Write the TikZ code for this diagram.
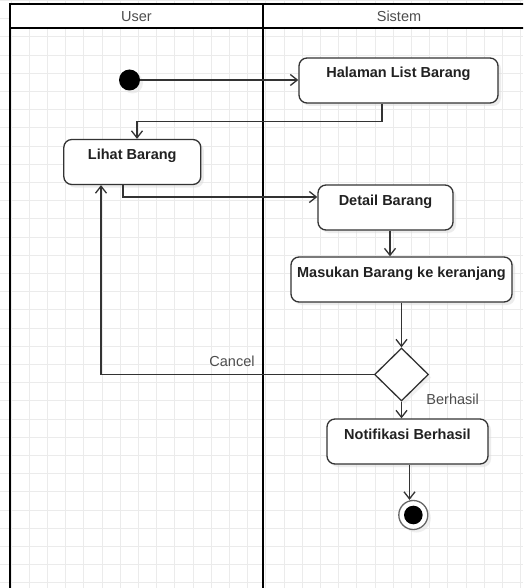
\documentclass[tikz,border=0pt]{standalone}
\usepackage{fontspec}
\setmainfont{Liberation Sans}
\usetikzlibrary{shapes.geometric,arrows.meta,shadows}

\definecolor{lineclr}{HTML}{333333}
\definecolor{gridclr}{HTML}{EBEBEB}
\definecolor{labelclr}{HTML}{4D4D4D}

\begin{document}
\begin{tikzpicture}[x=1pt,y=-1pt,
    action/.style={draw=lineclr, line width=1.3pt, rounded corners=8pt, fill=white,
      minimum height=45pt, inner ysep=2pt, text height=18pt, text depth=23pt,
      font=\fontsize{14.5}{17}\selectfont\bfseries, text=black!87,
      drop shadow={shadow xshift=3pt, shadow yshift=-3pt, fill=black!14}},
    choicebox/.style={diamond, draw=lineclr, line width=1.3pt, fill=white, inner sep=0pt,
      minimum width=54pt, minimum height=53pt,
      drop shadow={shadow xshift=3pt, shadow yshift=-3pt, fill=black!10}},
    startdot/.style={circle, fill=black, minimum size=21pt, inner sep=0pt,
      drop shadow={shadow xshift=3pt, shadow yshift=-3pt, fill=black!12}},
    finaldot/.style={circle, draw=black!60, line width=1.3pt, fill=white, minimum size=29pt, inner sep=0pt,
      path picture={\fill[black] (path picture bounding box.center) circle (9.3pt);},
      drop shadow={shadow xshift=3pt, shadow yshift=-3pt, fill=black!12}},
    flow/.style={draw=lineclr, line width=1.3pt, -{Straight Barb[length=7pt,width=11pt]}},
    guard/.style={text=labelclr, font=\fontsize{14.5}{17}\selectfont},
    lanehead/.style={text=labelclr, font=\fontsize{14.5}{17}\selectfont}]

    % Canvas and grid
    \useasboundingbox (0,0) rectangle (523,588);
    \clip (0,0) rectangle (523,588);
    \fill[white] (0,0) rectangle (523,588);
    \foreach \gx in {0,...,28}
        \draw[gridclr, line width=0.9pt] ({11+18.2*\gx},0) -- ({11+18.2*\gx},588);
    \foreach \gy in {0,...,32}
        \draw[gridclr, line width=0.9pt] (0,{0.4+18.2*\gy}) -- (523,{0.4+18.2*\gy});

    % Swimlanes
    \fill[white] (10,4) rectangle (540,28);
    \draw[line width=2pt] (10,4) rectangle (540,600);
    \draw[line width=2pt] (10,28) -- (540,28);
    \draw[line width=2pt] (263,4) -- (263,600);
    \node[lanehead] (userhead) at (136.5,16.5) {User};
    \node[lanehead] (sistemhead) at (399,16.5) {Sistem};

    % Activities
    \node[startdot] (start) at (129.5,80) {};
    \node[action, minimum width=199pt] (halaman) at (398.5,80.5) {Halaman List Barang};
    \node[action, minimum width=137pt] (lihat) at (132.3,162) {Lihat Barang};
    \node[action, minimum width=135pt] (detail) at (385.5,207.5) {Detail Barang};
    \node[action, minimum width=221pt] (masukan) at (401.5,279.5) {Masukan Barang ke keranjang};
    \node[choicebox] (cek) at (401.5,374.5) {};
    \node[action, minimum width=161pt] (notifikasi) at (407.5,441.5) {Notifikasi Berhasil};
    \node[finaldot] (selesai) at (413.3,515) {};

    % Flows
    \draw[flow] (start.east) -- (start.east -| halaman.west);
    \draw[flow] ([xshift=-16.5pt]halaman.south) -- ++(0,18) -| ([xshift=4.7pt]lihat.north);
    \draw[flow] ([xshift=-9.3pt]lihat.south) |- ([yshift=10.5pt]detail.west);
    \draw[flow] ([xshift=4.5pt]detail.south) -- ([xshift=4.5pt]detail.south |- masukan.north);
    \draw[flow] (masukan.south) -- (cek.north);
    \draw[flow] (cek.west) -| node[guard, pos=0.26, above=4pt] {Cancel} ([xshift=-31.3pt]lihat.south);
    \draw[flow] (cek.south) -- node[guard, at start, right=21pt, yshift=2pt] {Berhasil} (cek.south |- notifikasi.north);
    \draw[flow] ([xshift=2pt]notifikasi.south) -- ([xshift=2pt]notifikasi.south |- selesai.north);
\end{tikzpicture}
\end{document}
